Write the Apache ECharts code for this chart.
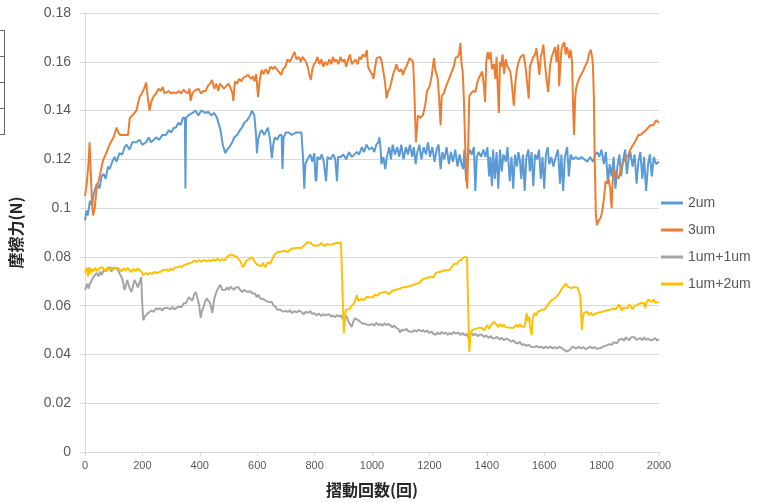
<!DOCTYPE html>
<html>
<head>
<meta charset="utf-8">
<title>摩擦力</title>
<script src="https://cdn.jsdelivr.net/npm/echarts@6/dist/echarts.min.js"></script>
<style>
  html, body { margin: 0; padding: 0; background: #fff; }
  #chart { width: 760px; height: 503px; }
</style>
</head>
<body>
<div id="chart"></div>
<script>
// Friction force vs. number of sliding cycles, four coating conditions.
const seriesNames = ['2um', '3um', '1um+1um', '1um+2um'];
const xTicks = { min: 0, max: 2000, step: 200 };
const yTicks = { min: 0, max: 0.18, step: 0.02 };

// [cycle, friction (N)]
const data2um = [
  [0,0.095],[5,0.099],[10,0.097],[17,0.103],[25,0.101],[30,0.106],[41,0.110],[50,0.108],[58,0.113],[65,0.114],
  [72,0.112],[80,0.117],[86,0.116],[95,0.119],[103,0.121],[110,0.119],[120,0.1225],[130,0.122],[138,0.125],[145,0.126],
  [155,0.124],[165,0.127],[179,0.127],[190,0.128],[200,0.126],[213,0.127],[222,0.129],[230,0.127],[240,0.128],[248,0.129],
  [258,0.128],[270,0.130],[282,0.130],[292,0.132],[300,0.131],[310,0.133],[317,0.133],[325,0.135],[333,0.134],[341,0.137],
  [348,0.137],[350,0.108],[352,0.137],[360,0.138],[375,0.139],[385,0.140],[395,0.138],[405,0.140],[410,0.140],[420,0.139],
  [430,0.1395],[440,0.138],[450,0.139],[460,0.137],[465,0.137],[472,0.132],[480,0.126],[489,0.1225],[495,0.124],[503,0.125],
  [513,0.127],[520,0.129],[530,0.130],[540,0.132],[547,0.133],[555,0.135],[565,0.136],[575,0.138],[582,0.140],[590,0.138],
  [596,0.130],[599,0.1225],[603,0.128],[610,0.131],[616,0.132],[625,0.130],[637,0.133],[645,0.128],[651,0.1205],[656,0.126],
  [661,0.129],[670,0.128],[678,0.130],[685,0.130],[688,0.116],[692,0.129],[700,0.131],[710,0.131],[720,0.130],[735,0.131],
  [745,0.131],[754,0.131],[760,0.120],[764,0.108],[768,0.118],[775,0.120],[785,0.122],[792,0.119],[799,0.1225],[803,0.112],
  [806,0.111],[810,0.121],[818,0.120],[825,0.122],[832,0.119],[840,0.111],[845,0.121],[855,0.120],[865,0.122],[872,0.120],
  [878,0.111],[882,0.121],[892,0.121],[900,0.122],[910,0.120],[920,0.123],[930,0.121],[947,0.123],[955,0.122],[965,0.125],
  [972,0.123],[981,0.126],[990,0.124],[1000,0.125],[1008,0.123],[1015,0.126],[1022,0.127],[1026,0.129],[1030,0.124],[1033,0.118],
  [1040,0.121],[1046,0.116],[1052,0.121],[1060,0.125],[1066,0.120],[1072,0.126],[1080,0.122],[1088,0.125],[1095,0.121],[1102,0.126],
  [1110,0.120],[1118,0.125],[1125,0.122],[1132,0.126],[1140,0.121],[1146,0.125],[1152,0.118],[1158,0.123],[1165,0.126],[1172,0.120],
  [1180,0.125],[1188,0.122],[1195,0.127],[1202,0.121],[1210,0.125],[1218,0.119],[1225,0.124],[1232,0.126],[1239,0.116],[1245,0.123],
  [1252,0.120],[1260,0.125],[1268,0.118],[1275,0.123],[1282,0.119],[1290,0.124],[1298,0.117],[1305,0.122],[1312,0.118],[1318,0.116],
  [1322,0.124],[1328,0.111],[1334,0.121],[1340,0.124],[1348,0.122],[1355,0.125],[1360,0.107],[1365,0.121],[1372,0.123],[1380,0.121],
  [1388,0.124],[1395,0.121],[1402,0.125],[1408,0.113],[1412,0.121],[1418,0.109],[1422,0.124],[1428,0.112],[1434,0.123],[1440,0.108],
  [1446,0.124],[1452,0.115],[1458,0.122],[1466,0.119],[1472,0.125],[1480,0.111],[1486,0.121],[1492,0.108],[1498,0.122],[1505,0.117],
  [1510,0.123],[1515,0.120],[1520,0.112],[1526,0.122],[1532,0.107],[1538,0.121],[1545,0.124],[1550,0.115],[1556,0.123],[1562,0.109],
  [1568,0.122],[1575,0.120],[1582,0.124],[1588,0.112],[1594,0.121],[1600,0.108],[1606,0.122],[1612,0.125],[1618,0.118],[1625,0.121],
  [1632,0.117],[1640,0.121],[1648,0.124],[1655,0.110],[1660,0.122],[1666,0.107],[1672,0.121],[1680,0.125],[1686,0.113],[1692,0.122],
  [1700,0.120],[1710,0.121],[1720,0.120],[1730,0.121],[1740,0.120],[1750,0.119],[1760,0.121],[1770,0.119],[1778,0.122],[1785,0.123],
  [1792,0.121],[1800,0.124],[1808,0.118],[1815,0.123],[1822,0.110],[1828,0.118],[1835,0.113],[1842,0.121],[1848,0.108],[1855,0.117],
  [1862,0.122],[1868,0.113],[1875,0.120],[1882,0.124],[1888,0.114],[1895,0.121],[1900,0.123],[1908,0.117],[1915,0.122],[1922,0.110],
  [1928,0.119],[1935,0.123],[1942,0.112],[1948,0.121],[1955,0.107],[1962,0.118],[1968,0.122],[1975,0.113],[1982,0.121],[1990,0.118],
  [2000,0.119]
];

const data3um = [
  [0,0.105],[6,0.110],[12,0.118],[16,0.127],[20,0.115],[24,0.103],[28,0.097],[34,0.100],[41,0.109],[47,0.111],
  [53,0.114],[58,0.117],[64,0.120],[72,0.122],[82,0.125],[90,0.127],[99,0.129],[105,0.131],[110,0.133],[116,0.131],
  [122,0.130],[135,0.130],[150,0.130],[156,0.137],[165,0.138],[172,0.139],[179,0.140],[185,0.143],[190,0.1455],[198,0.147],
  [206,0.149],[213,0.1515],[218,0.146],[225,0.140],[232,0.144],[240,0.146],[248,0.147],[256,0.149],[264,0.148],[271,0.1497],
  [277,0.147],[282,0.1476],[292,0.148],[300,0.147],[310,0.1475],[317,0.147],[326,0.148],[335,0.147],[343,0.1485],[351,0.1476],
  [358,0.147],[364,0.149],[368,0.144],[374,0.147],[380,0.148],[386,0.1476],[395,0.149],[404,0.147],[412,0.148],[420,0.148],
  [428,0.150],[435,0.151],[443,0.1525],[450,0.149],[458,0.151],[464,0.148],[470,0.151],[477,0.150],[484,0.149],[492,0.150],
  [500,0.151],[508,0.149],[514,0.147],[517,0.144],[521,0.150],[523,0.152],[530,0.151],[537,0.153],[545,0.152],[552,0.1535],
  [560,0.154],[569,0.1546],[577,0.153],[585,0.154],[590,0.152],[596,0.155],[600,0.150],[603,0.1455],[608,0.152],[615,0.1566],
  [622,0.155],[630,0.157],[638,0.155],[646,0.158],[655,0.157],[661,0.158],[668,0.157],[675,0.156],[684,0.1546],[690,0.157],
  [698,0.158],[706,0.161],[714,0.160],[722,0.162],[730,0.164],[737,0.161],[745,0.162],[752,0.160],[758,0.162],[764,0.1615],
  [770,0.160],[776,0.158],[781,0.155],[787,0.1525],[792,0.157],[798,0.159],[804,0.160],[810,0.162],[817,0.159],[824,0.161],
  [830,0.158],[837,0.160],[844,0.1587],[851,0.161],[858,0.159],[864,0.162],[870,0.160],[876,0.161],[883,0.159],[890,0.162],
  [897,0.160],[904,0.161],[910,0.158],[917,0.161],[923,0.163],[930,0.159],[936,0.160],[943,0.161],[950,0.159],[956,0.162],
  [962,0.161],[968,0.163],[975,0.162],[982,0.1648],[986,0.158],[990,0.1575],[994,0.156],[1000,0.155],[1005,0.153],[1010,0.157],
  [1016,0.1615],[1022,0.161],[1028,0.162],[1034,0.160],[1040,0.160],[1045,0.152],[1051,0.145],[1056,0.148],[1062,0.149],[1068,0.152],
  [1074,0.155],[1080,0.157],[1085,0.159],[1090,0.157],[1096,0.156],[1102,0.157],[1108,0.1546],[1114,0.157],[1120,0.158],[1126,0.160],
  [1131,0.1615],[1137,0.161],[1143,0.160],[1147,0.150],[1153,0.127],[1157,0.133],[1160,0.138],[1168,0.137],[1177,0.138],[1185,0.142],
  [1192,0.148],[1201,0.150],[1208,0.154],[1212,0.158],[1216,0.1615],[1220,0.157],[1225,0.155],[1229,0.153],[1234,0.145],[1239,0.134],
  [1243,0.146],[1250,0.147],[1258,0.150],[1265,0.152],[1270,0.152],[1278,0.156],[1285,0.158],[1291,0.1615],[1298,0.162],[1303,0.163],
  [1308,0.1677],[1312,0.159],[1316,0.156],[1320,0.145],[1325,0.125],[1329,0.112],[1332,0.108],[1336,0.130],[1339,0.146],[1345,0.147],
  [1352,0.148],[1360,0.1476],[1368,0.152],[1375,0.154],[1384,0.156],[1390,0.150],[1394,0.1435],[1398,0.160],[1403,0.164],[1408,0.161],
  [1413,0.164],[1418,0.157],[1425,0.159],[1430,0.153],[1434,0.162],[1438,0.150],[1442,0.139],[1446,0.160],[1450,0.158],[1455,0.163],
  [1460,0.155],[1466,0.161],[1472,0.158],[1477,0.157],[1482,0.156],[1488,0.150],[1494,0.142],[1500,0.152],[1505,0.157],[1511,0.160],
  [1518,0.162],[1528,0.163],[1535,0.158],[1540,0.152],[1546,0.145],[1550,0.158],[1556,0.160],[1562,0.162],[1568,0.163],[1573,0.1656],
  [1578,0.160],[1583,0.1546],[1588,0.162],[1593,0.164],[1597,0.167],[1602,0.160],[1608,0.153],[1614,0.1476],[1620,0.158],[1626,0.162],
  [1632,0.164],[1638,0.166],[1643,0.160],[1649,0.167],[1652,0.150],[1656,0.158],[1660,0.165],[1665,0.167],[1670,0.168],[1675,0.163],
  [1680,0.166],[1687,0.1615],[1692,0.165],[1697,0.160],[1701,0.140],[1704,0.130],[1708,0.145],[1711,0.149],[1718,0.152],[1725,0.154],
  [1735,0.156],[1742,0.158],[1750,0.160],[1756,0.163],[1762,0.165],[1767,0.162],[1770,0.158],[1773,0.145],[1776,0.120],[1780,0.097],
  [1784,0.093],[1790,0.095],[1797,0.096],[1804,0.100],[1810,0.106],[1814,0.111],[1820,0.110],[1824,0.112],[1830,0.108],[1835,0.100],
  [1838,0.110],[1842,0.116],[1850,0.114],[1859,0.112],[1865,0.115],[1872,0.118],[1880,0.120],[1893,0.1218],[1900,0.124],[1910,0.126],
  [1920,0.128],[1928,0.130],[1935,0.130],[1945,0.131],[1955,0.132],[1962,0.133],[1970,0.134],[1980,0.134],[1990,0.136],[1997,0.1353],
  [2000,0.135]
];

const data1p1 = [
  [0,0.0665],[3,0.0664],[8,0.069],[12,0.067],[17,0.069],[22,0.070],[28,0.0715],[34,0.072],[41,0.0734],[47,0.072],
  [53,0.074],[58,0.0725],[65,0.0746],[72,0.074],[78,0.0755],[86,0.0758],[92,0.074],[98,0.0755],[104,0.075],[110,0.0754],
  [116,0.0745],[121,0.073],[127,0.0718],[132,0.070],[138,0.0664],[143,0.0685],[147,0.0705],[151,0.069],[156,0.067],[162,0.0656],
  [167,0.068],[172,0.0705],[179,0.069],[184,0.0675],[189,0.068],[193,0.0705],[196,0.0718],[199,0.062],[203,0.054],[208,0.0555],
  [213,0.0555],[220,0.057],[226,0.0565],[232,0.058],[240,0.0575],[248,0.059],[255,0.0585],[262,0.059],[270,0.058],[276,0.059],
  [282,0.0582],[290,0.059],[298,0.0585],[305,0.0595],[311,0.0585],[317,0.059],[324,0.0595],[330,0.060],[337,0.0595],[344,0.061],
  [351,0.061],[356,0.062],[362,0.0635],[368,0.0636],[374,0.062],[380,0.0645],[386,0.0656],[392,0.063],[398,0.060],[403,0.055],
  [408,0.058],[413,0.0595],[418,0.0615],[424,0.063],[430,0.0623],[436,0.061],[440,0.059],[444,0.057],[448,0.061],[452,0.0635],
  [456,0.065],[461,0.0664],[466,0.0675],[472,0.0685],[478,0.0665],[484,0.067],[489,0.0664],[495,0.0675],[501,0.0665],[507,0.0678],
  [513,0.0676],[519,0.0665],[526,0.0675],[534,0.0676],[540,0.0665],[547,0.0656],[553,0.0665],[560,0.066],[568,0.0656],[575,0.066],
  [583,0.065],[592,0.065],[598,0.0635],[604,0.0645],[610,0.063],[616,0.0623],[624,0.0625],[632,0.062],[640,0.0615],[646,0.062],
  [651,0.0615],[657,0.060],[664,0.0595],[671,0.0582],[678,0.0585],[685,0.058],[692,0.0575],[699,0.058],[706,0.0574],[714,0.058],
  [722,0.057],[730,0.0578],[738,0.0572],[746,0.058],[754,0.0574],[762,0.0565],[770,0.0575],[778,0.057],[785,0.0578],[792,0.0565],
  [799,0.057],[806,0.056],[814,0.0568],[822,0.0558],[830,0.0565],[837,0.056],[843,0.056],[850,0.0565],[857,0.0555],[864,0.056],
  [871,0.0552],[878,0.0562],[885,0.0555],[892,0.056],[898,0.0545],[903,0.0558],[908,0.055],[912,0.0555],[918,0.0535],[924,0.054],
  [929,0.0513],[935,0.0535],[941,0.0548],[947,0.0555],[953,0.054],[959,0.0535],[965,0.0528],[971,0.053],[977,0.0525],[983,0.0528],
  [989,0.052],[995,0.0513],[1001,0.0525],[1008,0.0518],[1015,0.053],[1022,0.052],[1030,0.0525],[1037,0.0518],[1044,0.0528],[1051,0.052],
  [1058,0.0525],[1064,0.052],[1071,0.0512],[1078,0.0518],[1085,0.0508],[1092,0.0505],[1098,0.049],[1105,0.0502],[1112,0.0498],[1120,0.0505],
  [1127,0.0495],[1133,0.050],[1140,0.0492],[1148,0.050],[1155,0.0493],[1162,0.0502],[1170,0.0495],[1177,0.050],[1184,0.0492],[1192,0.0498],
  [1200,0.0488],[1207,0.0494],[1214,0.0485],[1222,0.048],[1229,0.049],[1236,0.0483],[1243,0.0492],[1250,0.0485],[1257,0.049],[1263,0.048],
  [1270,0.0488],[1277,0.0482],[1284,0.0492],[1292,0.0485],[1300,0.049],[1308,0.048],[1315,0.0488],[1322,0.0478],[1329,0.0485],[1335,0.047],
  [1339,0.048],[1346,0.0488],[1353,0.0478],[1360,0.0485],[1368,0.0475],[1376,0.0482],[1384,0.048],[1391,0.0472],[1398,0.0478],[1406,0.0468],
  [1414,0.0475],[1421,0.0465],[1429,0.0467],[1436,0.0472],[1444,0.0462],[1452,0.0468],[1460,0.0458],[1468,0.0465],[1477,0.046],[1485,0.0452],
  [1493,0.0458],[1500,0.0448],[1508,0.0445],[1515,0.0452],[1522,0.0439],[1530,0.0442],[1538,0.0435],[1546,0.044],[1554,0.0432],[1560,0.0438],
  [1566,0.043],[1574,0.0435],[1582,0.0428],[1590,0.0432],[1598,0.0425],[1606,0.0432],[1614,0.0426],[1622,0.0432],[1630,0.0425],[1638,0.043],
  [1646,0.0424],[1653,0.0432],[1659,0.0426],[1666,0.0422],[1672,0.0418],[1678,0.0412],[1683,0.0406],[1688,0.0418],[1694,0.0425],[1699,0.0432],
  [1704,0.043],[1712,0.0424],[1720,0.0432],[1728,0.0425],[1736,0.043],[1744,0.0422],[1752,0.0426],[1760,0.0432],[1768,0.0425],[1776,0.043],
  [1784,0.0423],[1790,0.0428],[1797,0.0426],[1804,0.0432],[1810,0.0428],[1816,0.0436],[1821,0.043],[1826,0.0442],[1831,0.0448],[1836,0.044],
  [1842,0.045],[1848,0.0458],[1854,0.0446],[1860,0.046],[1866,0.0452],[1872,0.0465],[1878,0.0455],[1884,0.047],[1890,0.0467],[1896,0.0458],
  [1902,0.047],[1908,0.0462],[1914,0.0472],[1920,0.046],[1926,0.0468],[1935,0.0467],[1942,0.0458],[1948,0.047],[1955,0.046],[1962,0.0465],
  [1970,0.0458],[1979,0.046],[1986,0.0468],[1993,0.0458],[2000,0.046]
];

const data1p2 = [
  [0,0.0735],[3,0.0734],[7,0.0755],[10,0.072],[14,0.0758],[18,0.073],[22,0.0752],[26,0.0738],[31,0.0746],[36,0.0755],
  [42,0.0742],[48,0.0752],[54,0.0745],[60,0.0758],[65,0.075],[72,0.0742],[78,0.0755],[85,0.0746],[92,0.0756],[100,0.075],
  [106,0.0742],[112,0.0755],[120,0.075],[127,0.074],[134,0.0752],[141,0.0745],[148,0.0755],[155,0.0746],[162,0.0738],[169,0.075],
  [176,0.0742],[183,0.0752],[189,0.0745],[196,0.074],[203,0.0725],[208,0.0732],[213,0.0734],[220,0.0728],[227,0.0735],[234,0.073],
  [241,0.0738],[248,0.0734],[254,0.0742],[260,0.0738],[266,0.0745],[272,0.0746],[278,0.0738],[285,0.0748],[292,0.0742],[299,0.0752],
  [306,0.0746],[312,0.0755],[317,0.0754],[324,0.0758],[331,0.0762],[338,0.0758],[345,0.0766],[351,0.0767],[358,0.0772],[364,0.0778],
  [370,0.0776],[375,0.078],[382,0.0785],[390,0.078],[398,0.0787],[406,0.078],[414,0.0788],[422,0.0782],[430,0.0787],[438,0.0782],
  [446,0.079],[454,0.0785],[462,0.0792],[470,0.0784],[478,0.079],[484,0.0786],[489,0.0787],[495,0.080],[501,0.0795],[507,0.081],
  [513,0.0815],[518,0.0805],[524,0.0812],[529,0.080],[534,0.080],[540,0.0785],[546,0.0768],[551,0.0758],[556,0.077],[562,0.0785],
  [568,0.0778],[575,0.0792],[582,0.080],[588,0.0788],[594,0.0775],[598,0.0782],[602,0.0767],[608,0.077],[614,0.0762],[620,0.0775],
  [627,0.0758],[633,0.0768],[638,0.0778],[645,0.0772],[651,0.0787],[656,0.0795],[661,0.081],[666,0.0805],[671,0.082],[677,0.0815],
  [684,0.0822],[690,0.0815],[697,0.0825],[706,0.082],[712,0.0826],[718,0.0832],[724,0.0825],[730,0.0835],[736,0.083],[742,0.0838],
  [748,0.0832],[754,0.0836],[760,0.0842],[766,0.085],[771,0.0845],[775,0.086],[781,0.0852],[787,0.0858],[793,0.0848],[799,0.0855],
  [805,0.0846],[811,0.0854],[817,0.0848],[823,0.0857],[829,0.085],[835,0.0845],[842,0.0852],[848,0.0845],[857,0.085],[863,0.0842],
  [869,0.0855],[875,0.0848],[881,0.0858],[886,0.085],[892,0.0857],[895,0.086],[898,0.0855],[902,0.0488],[906,0.055],[909,0.0582],
  [914,0.059],[920,0.0585],[926,0.0595],[932,0.0592],[938,0.061],[942,0.0602],[947,0.0644],[952,0.062],[958,0.0615],[964,0.0628],
  [971,0.0623],[976,0.063],[981,0.0636],[987,0.0628],[993,0.0635],[999,0.0632],[1005,0.0636],[1010,0.0645],[1015,0.065],[1021,0.0642],
  [1027,0.0652],[1033,0.0645],[1040,0.0655],[1046,0.0648],[1052,0.0655],[1058,0.0646],[1064,0.065],[1070,0.066],[1076,0.0655],[1082,0.0665],
  [1088,0.0658],[1094,0.0668],[1100,0.0662],[1108,0.0676],[1114,0.0668],[1120,0.0676],[1126,0.067],[1132,0.0682],[1138,0.0676],[1145,0.0685],
  [1153,0.069],[1158,0.0682],[1164,0.0692],[1170,0.0698],[1177,0.071],[1183,0.0702],[1190,0.0712],[1196,0.0706],[1202,0.0718],[1208,0.0722],
  [1215,0.0716],[1222,0.0734],[1228,0.0726],[1234,0.0738],[1240,0.073],[1246,0.0742],[1252,0.0736],[1258,0.0745],[1264,0.074],[1270,0.0746],
  [1276,0.0755],[1282,0.0762],[1287,0.0772],[1291,0.078],[1296,0.0772],[1301,0.0782],[1306,0.0776],[1311,0.0788],[1316,0.0795],[1322,0.080],
  [1327,0.0792],[1331,0.0798],[1336,0.0805],[1339,0.041],[1343,0.048],[1349,0.050],[1355,0.0495],[1361,0.0505],[1367,0.0498],[1373,0.051],
  [1379,0.0502],[1384,0.0508],[1390,0.0498],[1396,0.051],[1402,0.052],[1408,0.0505],[1414,0.0518],[1420,0.0525],[1425,0.0535],[1429,0.054],
  [1434,0.0522],[1440,0.0512],[1446,0.0525],[1453,0.0513],[1459,0.0522],[1465,0.0512],[1471,0.052],[1478,0.051],[1484,0.0518],[1490,0.0508],
  [1497,0.0513],[1503,0.0522],[1509,0.0512],[1515,0.0525],[1521,0.0515],[1527,0.0522],[1532,0.0513],[1536,0.0545],[1539,0.057],[1543,0.0535],
  [1547,0.0555],[1551,0.051],[1556,0.048],[1560,0.0545],[1566,0.057],[1572,0.056],[1578,0.0575],[1584,0.0568],[1590,0.0582],[1596,0.0575],
  [1602,0.0585],[1608,0.059],[1614,0.0605],[1620,0.061],[1625,0.0623],[1631,0.0618],[1637,0.063],[1643,0.0638],[1649,0.0645],[1654,0.065],
  [1659,0.0664],[1664,0.0675],[1670,0.0682],[1676,0.069],[1682,0.0678],[1688,0.0685],[1694,0.0672],[1699,0.068],[1704,0.0676],[1710,0.0668],
  [1716,0.0675],[1721,0.0656],[1726,0.064],[1731,0.050],[1735,0.055],[1738,0.057],[1744,0.0565],[1750,0.0575],[1756,0.0562],[1762,0.0572],
  [1768,0.056],[1773,0.0555],[1779,0.0568],[1785,0.056],[1791,0.0572],[1797,0.0565],[1803,0.0575],[1809,0.0568],[1815,0.058],[1821,0.0574],
  [1827,0.0582],[1833,0.0575],[1839,0.0588],[1845,0.0595],[1850,0.0585],[1855,0.059],[1860,0.0605],[1865,0.0595],[1870,0.058],[1876,0.0592],
  [1882,0.0585],[1890,0.059],[1896,0.0605],[1902,0.0598],[1908,0.0585],[1914,0.0598],[1920,0.059],[1927,0.0605],[1935,0.061],[1941,0.0602],
  [1947,0.0612],[1952,0.059],[1957,0.0615],[1963,0.0625],[1969,0.0623],[1975,0.0615],[1981,0.0625],[1987,0.0612],[1993,0.062],[2000,0.0615]
];

const seriesData = [data2um, data3um, data1p1, data1p2];
const seriesColors = ['#5B9BD5', '#ED7D31', '#A5A5A5', '#FFC000'];

const chart = echarts.init(document.getElementById('chart'), null, { renderer: 'canvas' });

const axisGray = '#d9d9d9';
const labelGray = '#595959';
const baseFont = '"Liberation Sans", "Noto Sans", sans-serif';
const cjkFont = '"Noto Sans CJK JP", "Noto Sans", sans-serif';

chart.setOption({
  animation: false,
  backgroundColor: '#ffffff',
  grid: { left: 78, right: 101, top: 13, bottom: 51 },
  legend: {
    orient: 'vertical',
    left: 661,
    top: 196,
    padding: 0,
    itemGap: 13,
    itemWidth: 22,
    itemHeight: 3,
    icon: 'rect',
    data: seriesNames,
    textStyle: { fontFamily: baseFont, fontSize: 14, color: labelGray, padding: [0, 0, 0, 0] }
  },
  xAxis: {
    type: 'value',
    min: xTicks.min,
    max: xTicks.max,
    interval: xTicks.step,
    name: '摺動回数(回)',
    nameLocation: 'middle',
    nameGap: 30,
    nameTextStyle: { fontFamily: cjkFont, fontSize: 16, fontWeight: 'bold', color: '#262626' },
    axisLine: { show: true, lineStyle: { color: axisGray, width: 1 } },
    axisTick: { show: true, length: 4, lineStyle: { color: axisGray } },
    axisLabel: {
      margin: 8,
      fontFamily: baseFont,
      fontSize: 11,
      color: labelGray,
      formatter: v => String(v)
    },
    splitLine: { show: false }
  },
  yAxis: {
    type: 'value',
    min: yTicks.min,
    max: yTicks.max,
    interval: yTicks.step,
    name: '摩擦力(N)',
    nameLocation: 'middle',
    nameGap: 61,
    nameRotate: 90,
    nameTextStyle: { fontFamily: cjkFont, fontSize: 16, fontWeight: 'bold', color: '#262626' },
    axisLine: { show: true, lineStyle: { color: axisGray, width: 1 } },
    axisTick: { show: true, length: 5, lineStyle: { color: axisGray } },
    axisLabel: {
      margin: 14,
      fontFamily: baseFont,
      fontSize: 14,
      color: labelGray,
      formatter: v => String(+v.toFixed(2))
    },
    splitLine: { show: true, lineStyle: { color: axisGray, width: 1 } }
  },
  graphic: [
    { type: 'line', shape: { x1: 4.5, y1: 30, x2: 4.5, y2: 135 }, style: { stroke: '#666', lineWidth: 1 } },
    { type: 'line', shape: { x1: 0, y1: 30.5, x2: 4.5, y2: 30.5 }, style: { stroke: '#666', lineWidth: 1 } },
    { type: 'line', shape: { x1: 0, y1: 56.5, x2: 4.5, y2: 56.5 }, style: { stroke: '#666', lineWidth: 1 } },
    { type: 'line', shape: { x1: 0, y1: 82.5, x2: 4.5, y2: 82.5 }, style: { stroke: '#666', lineWidth: 1 } },
    { type: 'line', shape: { x1: 0, y1: 108.5, x2: 4.5, y2: 108.5 }, style: { stroke: '#666', lineWidth: 1 } },
    { type: 'line', shape: { x1: 0, y1: 134.5, x2: 4.5, y2: 134.5 }, style: { stroke: '#666', lineWidth: 1 } }
  ],
  series: seriesNames.map((name, i) => ({
    name,
    type: 'line',
    data: seriesData[i],
    showSymbol: false,
    symbol: 'none',
    sampling: null,
    lineStyle: { color: seriesColors[i], width: 2 },
    itemStyle: { color: seriesColors[i] },
    emphasis: { disabled: true }
  }))
});
</script>
</body>
</html>
